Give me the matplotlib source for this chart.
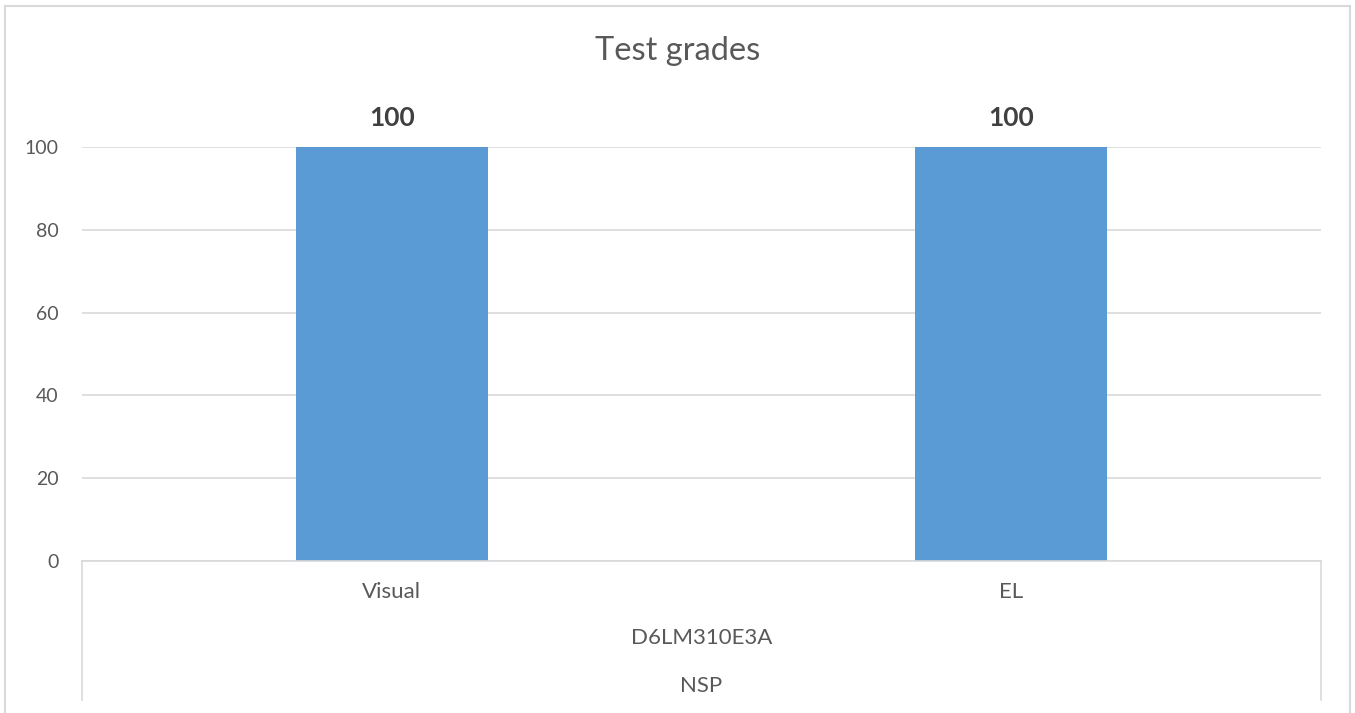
import numpy as np
import matplotlib
matplotlib.use("Agg")
from matplotlib import pyplot as plt
from matplotlib.lines import Line2D
from matplotlib.transforms import blended_transform_factory

# data
tests = ["Visual", "EL"]
grades = [100, 100]
model = "D6LM310E3A"
group = "NSP"
yticks = [0, 20, 40, 60, 80, 100]

plt.rcParams['font.family'] = ['Lato', 'DejaVu Sans']
txt = "#595959"
grid = "#d9d9d9"

fig = plt.figure(figsize=(13.55, 7.13), dpi=100)
W, H = 1355, 713
ax = fig.add_axes([82 / W, 1 - 561 / H, (1321 - 82) / W, (561 - 147) / H])

x = np.arange(len(tests))
bars = ax.bar(x, grades, width=0.31, color="#5B9BD5", zorder=3)
ax.set_xlim(-0.5, len(tests) - 0.5)
ax.set_ylim(0, 100)

for b, v in zip(bars, grades):
    ax.annotate(str(v), (b.get_x() + b.get_width() / 2, v), xytext=(0, 21),
                textcoords="offset points", ha="center", va="center",
                fontsize=19, fontweight="bold", color="#404040", annotation_clip=False)

ax.set_yticks(yticks)
ax.tick_params(axis="y", length=0, pad=17, labelsize=14, labelcolor=txt)
ax.yaxis.grid(True, color=grid, lw=1.2, zorder=0)
for s in ax.spines.values():
    s.set_visible(False)

# multi-level category axis
ax.set_xticks([])
tr = blended_transform_factory(ax.transData, ax.transAxes)
for xi, t in zip(x, tests):
    ax.text(xi, -0.075, t, transform=tr, ha="center", va="center", fontsize=16, color=txt)
ax.text(x.mean(), -0.186, model, transform=tr, ha="center", va="center", fontsize=16, color=txt)
ax.text(x.mean(), -0.302, group, transform=tr, ha="center", va="center", fontsize=16, color=txt)

ax.add_line(Line2D([0, 1], [0, 0], transform=ax.transAxes, color=grid, lw=1.2, clip_on=False, zorder=4))
for xx in [0, 1]:
    ax.add_line(Line2D([xx, xx], [0, -0.336], transform=ax.transAxes, color=grid, lw=1.2, clip_on=False))

# chart border
for xs, ys in [([5, 5], [713, 6]), ([5, 1350], [6, 6]), ([1350, 1350], [6, 713])]:
    fig.add_artist(Line2D([v / W for v in xs], [1 - v / H for v in ys], color=grid, lw=1.5))

fig.text(0.5, 1 - 51 / H, "Test grades", ha="center", va="center", fontsize=23.5, color=txt)

fig.savefig("out.png", dpi=100)
